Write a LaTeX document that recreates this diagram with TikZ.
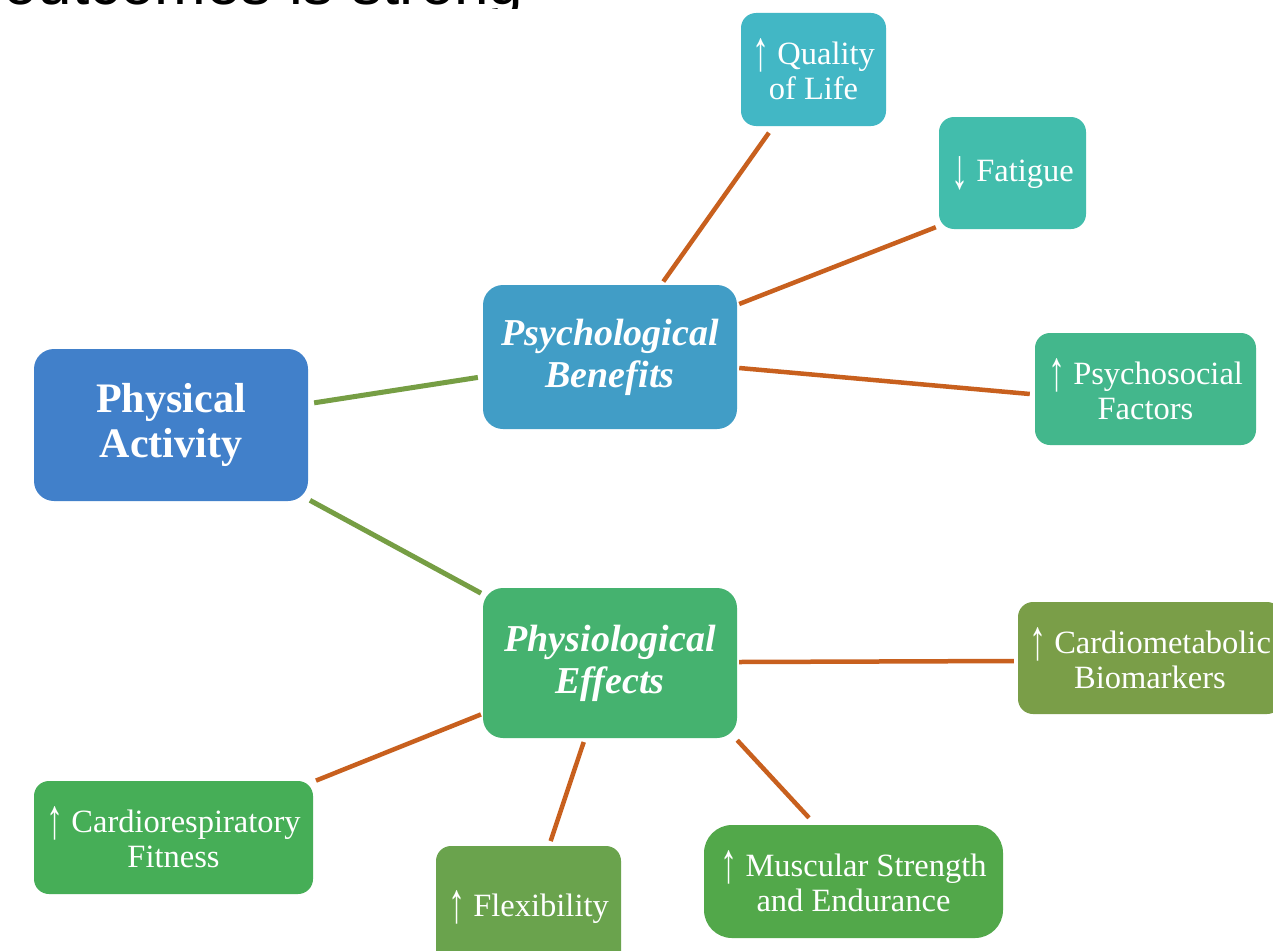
\documentclass[tikz,border=0pt]{standalone}
\usepackage{fontspec}
\setmainfont{Liberation Serif}
\newfontfamily\headfont{Liberation Sans}
\newcommand\myup{\raisebox{-0.19em}{\scalebox{1.05}[1.75]{↑}}}
\newcommand\mydown{\raisebox{-0.19em}{\scalebox{1.05}[1.75]{↓}}}
\definecolor{cpa}{RGB}{65,128,202}
\definecolor{cpb}{RGB}{65,157,198}
\definecolor{cpe}{RGB}{69,178,111}
\definecolor{cqol}{RGB}{66,183,197}
\definecolor{cfat}{RGB}{66,189,172}
\definecolor{cpsy}{RGB}{67,183,140}
\definecolor{ccmb}{RGB}{122,158,72}
\definecolor{ccrf}{RGB}{70,174,87}
\definecolor{cflex}{RGB}{106,163,77}
\definecolor{cmse}{RGB}{82,168,74}
\definecolor{glinec}{RGB}{118,158,68}
\definecolor{olinec}{RGB}{200,96,30}
\begin{document}
\begin{tikzpicture}[x=1pt,y=-1pt,
  box/.style={rounded corners=15pt, text=white, align=center, inner sep=0pt,
    font=\fontsize{32.5}{35}\selectfont},
  mainbox/.style={box, rounded corners=20pt, font=\bfseries\fontsize{42}{45}\selectfont},
  subbox/.style={box, rounded corners=20pt, font=\bfseries\itshape\fontsize{38}{42}\selectfont},
  gline/.style={draw=glinec, line width=5pt},
  oline/.style={draw=olinec, line width=4.5pt}]
\useasboundingbox (0,0) rectangle (1273,950);
\clip (0,0) rectangle (1273,950);
\fill[white] (0,0) rectangle (1273,950);
\begin{scope}
\clip (0,0) rectangle (1273,9);
\node[anchor=base west, inner sep=0pt, font=\headfont\fontsize{62}{62}\selectfont] (head) at (3,5) {outcomes is strong};
\end{scope}
% main nodes
\node[mainbox, fill=cpa, minimum width=274pt, minimum height=152pt] (pa) at (171,425) {Physical\\Activity};
\node[subbox, fill=cpb, minimum width=254pt, minimum height=144pt] (pb) at (610,357) {Psychological\\Benefits};
\node[subbox, fill=cpe, minimum width=254pt, minimum height=150pt] (pe) at (610,663) {Physiological\\Effects};
% leaves
\node[box, fill=cqol, minimum width=145pt, minimum height=113pt] (qol) at (813.5,69.5) {\myup\ Quality\\of Life};
\node[box, fill=cfat, minimum width=147pt, minimum height=112pt] (fat) at (1012.5,173) {\mydown\ Fatigue};
\node[box, fill=cpsy, minimum width=221pt, minimum height=112pt] (psy) at (1145.5,389) {\myup\ Psychosocial\\Factors};
\node[box, fill=ccmb, minimum width=264pt, minimum height=112pt] (cmb) at (1150,658) {\myup\ Cardiometabolic\\Biomarkers};
\node[box, fill=ccrf, minimum width=279pt, minimum height=113pt] (crf) at (173.5,837.5) {\myup\ Cardiorespiratory\\Fitness};
\node[box, fill=cflex, minimum width=185pt, minimum height=123pt] (flex) at (528.5,907.5) {\myup\ Flexibility};
\node[box, rounded corners=28pt, fill=cmse, minimum width=299pt, minimum height=113pt] (mse) at (853.5,881.5) {\myup\ Muscular Strength\\and Endurance};
% connectors
\draw[gline, shorten <=6pt, shorten >=5pt] (pa) -- (pb);
\draw[gline, shorten <=2pt, shorten >=2pt] (pa) -- (pe);
\draw[oline, shorten <=4pt, shorten >=8pt] (pb) -- (qol);
\draw[oline] ([shift={(2,-53)}]pb.east) -- ([shift={(-3,-2)}]fat.south west);
\draw[oline] ([shift={(2,11)}]pb.east) -- ([shift={(-5,5)}]psy.west);
\draw[oline] ([shift={(2,-1)}]pe.east) -- ([shift={(-4,3)}]cmb.west);
\draw[oline, shorten <=2pt, shorten >=3pt] (pe) -- (crf);
\draw[oline, shorten <=4pt, shorten >=5pt] (pe) -- (flex);
\draw[oline] ([shift={(0,2)}]pe.south east) -- ([shift={(-44.5,-7)}]mse.north);
\end{tikzpicture}
\end{document}
